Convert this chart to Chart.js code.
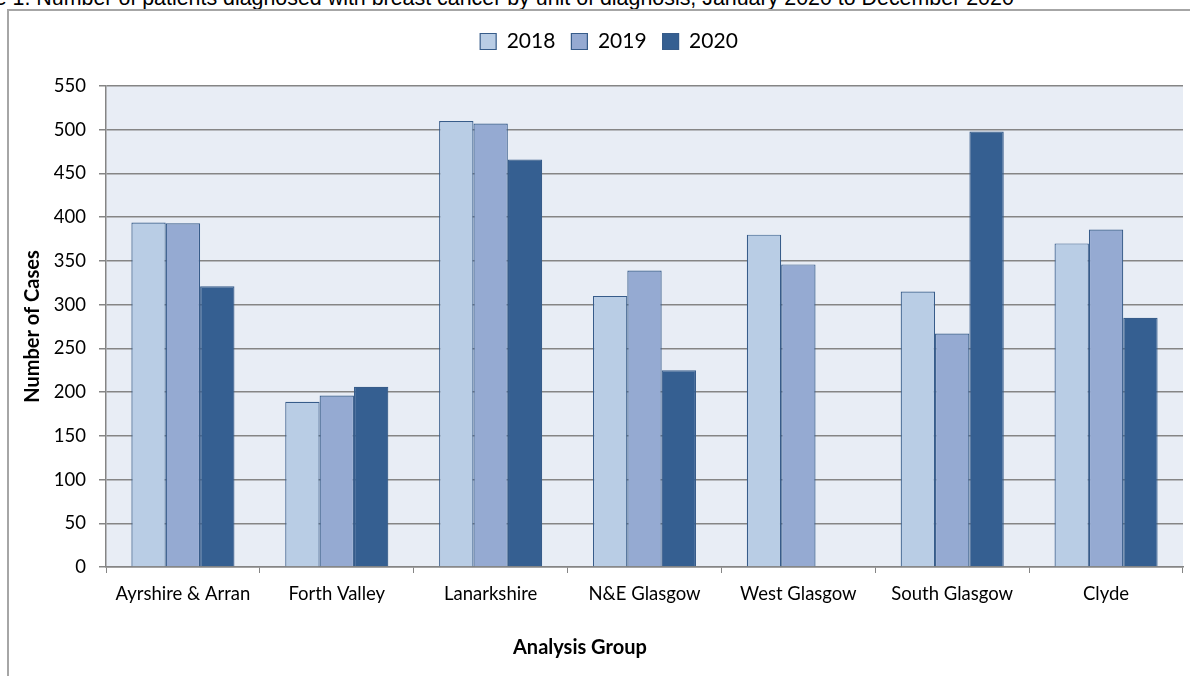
<!DOCTYPE html>
<html>
<head>
<meta charset="utf-8">
<title>Breast cancer diagnoses by unit</title>
<script src="https://cdn.jsdelivr.net/npm/chart.js@4.4.1/dist/chart.umd.min.js"></script>
<style>
    html, body { margin: 0; padding: 0; background: #fff; overflow: hidden; }
    #caption { position: absolute; left: -54px; top: -12px; font: 21.4px/1 "Liberation Sans", Arial, sans-serif; white-space: nowrap; color: #000; }
    #frame { position: absolute; left: 7px; top: 9px; width: 1300px; height: 800px; border: 2px solid #a6a6a6; }
    #wrap { position: absolute; left: 0; top: 0; width: 1190px; height: 676px; }
</style>
</head>
<body>
<div id="caption">Figure 1. Number of patients diagnosed with breast cancer by unit of diagnosis, January 2020 to December 2020</div>
<div id="frame"></div>
<div id="wrap"><canvas id="grafico"></canvas></div>
<script>
const grupos = ['Ayrshire & Arran', 'Forth Valley', 'Lanarkshire', 'N&E Glasgow', 'West Glasgow', 'South Glasgow', 'Clyde'];
const anios = ['2018', '2019', '2020'];
const casos2018 = [394, 189, 510, 310, 380, 315, 370];
const casos2019 = [393, 196, 507, 339, 346, 267, 386];
const casos2020 = [321, 206, 466, 225, null, 498, 285];
const ticksY = { min: 0, max: 550, paso: 50 };

const colores = ['#B9CDE5', '#95AAD2', '#355F91'];
const GRIS = '#858585';
const FUENTE = 'Lato';

// fondo azulado del area de trazado
const fondoPlot = {
    id: 'fondoPlot',
    beforeDraw(chart) {
        const { ctx, chartArea: a } = chart;
        ctx.save();
        ctx.fillStyle = '#E8EDF5';
        ctx.fillRect(a.left, a.top, a.right - a.left, a.bottom - a.top);
        ctx.restore();
    }
};

// deja aire entre la leyenda y el grafico
const espacioLeyenda = {
    id: 'espacioLeyenda',
    beforeInit(chart) {
        const fitOrig = chart.legend.fit;
        chart.legend.fit = function () {
            fitOrig.bind(chart.legend)();
            this.height += 24;
        };
    }
};

// titulo del eje X (va corrido a la izquierda, no centrado)
const tituloX = {
    id: 'tituloX',
    afterDraw(chart) {
        const { ctx, chartArea: a } = chart;
        ctx.save();
        ctx.font = `bold 20px ${FUENTE}`;
        ctx.fillStyle = '#000';
        ctx.textAlign = 'center';
        ctx.textBaseline = 'alphabetic';
        ctx.fillText('Analysis Group', a.left + (a.right - a.left) * 0.44, a.bottom + 87);
        ctx.restore();
    }
};

const series = [casos2018, casos2019, casos2020];

new Chart(document.getElementById('grafico'), {
    type: 'bar',
    data: {
        labels: grupos,
        datasets: series.map((valores, i) => ({
            label: anios[i],
            data: valores,
            backgroundColor: colores[i],
            borderColor: '#375C8A',
            borderWidth: 1.2,
            categoryPercentage: 0.67,
            barPercentage: 1.0
        }))
    },
    options: {
        responsive: true,
        maintainAspectRatio: false,
        animation: false,
        layout: { padding: { left: 35, right: 7, top: 15, bottom: 0 } },
        plugins: {
            legend: {
                position: 'top',
                labels: { boxWidth: 16, boxHeight: 16, padding: 16, color: '#000', font: { family: FUENTE, size: 21 } }
            },
            tooltip: { enabled: false }
        },
        scales: {
            x: {
                grid: { drawOnChartArea: false, drawTicks: true, tickLength: 6, color: GRIS, offset: true },
                border: { color: GRIS, width: 1.5 },
                ticks: { font: { family: FUENTE, size: 18.5 }, color: '#000', padding: 10, maxRotation: 0, autoSkip: false },
                afterFit(s) { s.height = 109; }
            },
            y: {
                min: ticksY.min,
                max: ticksY.max,
                ticks: { stepSize: ticksY.paso, font: { family: FUENTE, size: 18.5 }, color: '#000', padding: 13 },
                grid: { color: GRIS, lineWidth: 1.5, tickLength: 7 },
                border: { color: GRIS, width: 1.5 },
                title: {
                    display: true, text: 'Number of Cases', color: '#000',
                    font: { family: FUENTE, size: 20, weight: 'bold' },
                    padding: { top: -14, bottom: 0 }
                },
                afterFit(s) { s.width = 71; }
            }
        }
    },
    plugins: [fondoPlot, espacioLeyenda, tituloX]
});
</script>
</body>
</html>
